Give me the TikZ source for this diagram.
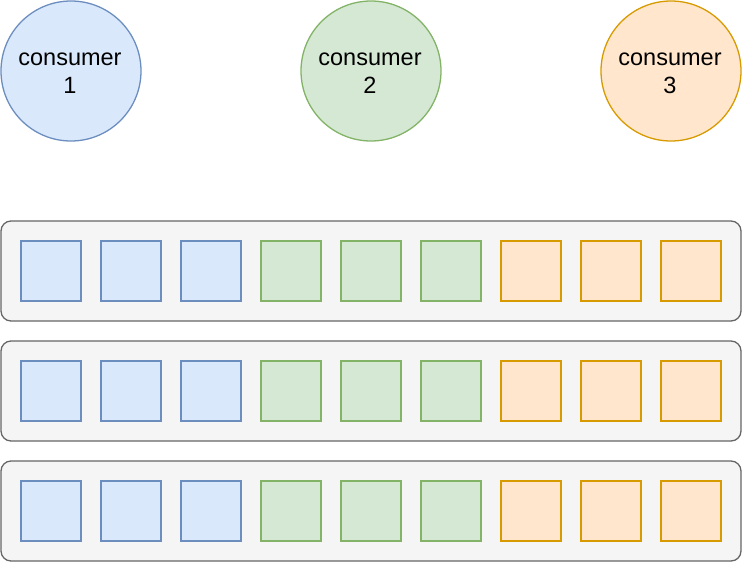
\documentclass[tikz,border=0pt]{standalone}
\usepackage{fontspec}
\setmainfont{Liberation Sans}
\definecolor{bfill}{HTML}{DAE8FC}\definecolor{bdraw}{HTML}{6C8EBF}
\definecolor{gfill}{HTML}{D5E8D4}\definecolor{gdraw}{HTML}{82B366}
\definecolor{ofill}{HTML}{FFE6CC}\definecolor{odraw}{HTML}{D79B00}
\definecolor{cfill}{HTML}{F5F5F5}\definecolor{cdraw}{HTML}{666666}
\begin{document}
\begin{tikzpicture}[x=1pt,y=-1pt,
  consumer/.style={circle,minimum size=140pt,inner sep=0pt,line width=1.3pt},
  ctext/.style={align=center,inner sep=0pt,font=\fontsize{23.5}{28}\selectfont},
  cblue/.style={fill=bfill,draw=bdraw},
  cgreen/.style={fill=gfill,draw=gdraw},
  corange/.style={fill=ofill,draw=odraw},
  row/.style={rectangle,rounded corners=10pt,fill=cfill,draw=cdraw,line width=1.3pt,
    minimum width=740pt,minimum height=100pt,inner sep=0pt},
  part/.style={rectangle,minimum size=60pt,inner sep=0pt,line width=1.3pt}]
\useasboundingbox (0,0) rectangle (742,562);
\node[consumer,cblue] (c1) at (71,71) {};
\node[ctext] (t1) at (70,73.5) {consumer\\1};
\node[consumer,cgreen] (c2) at (371,71) {};
\node[ctext] (t2) at (370,73.5) {consumer\\2};
\node[consumer,corange] (c3) at (671,71) {};
\node[ctext] (t3) at (670,73.5) {consumer\\3};
\foreach \r/\y in {1/271,2/391,3/511}{
  \node[row] (row\r) at (371,\y) {};
  \foreach \i/\s in {0/cblue,1/cblue,2/cblue,3/cgreen,4/cgreen,5/cgreen,6/corange,7/corange,8/corange}{
    \node[part,\s] (p\r-\i) at ({51+80*\i},\y) {};
  }
}
\end{tikzpicture}
\end{document}
